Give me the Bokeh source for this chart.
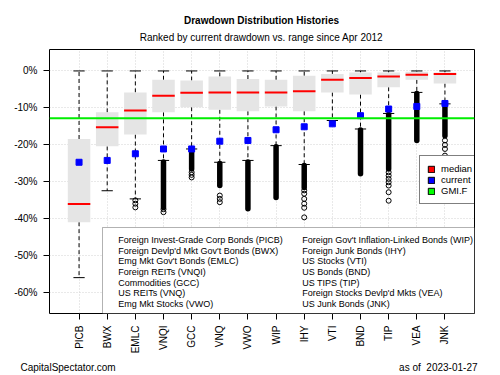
import math
from bokeh.plotting import figure
from bokeh.layouts import column
from bokeh.models import (Range1d, FixedTicker, PrintfTickFormatter, Span, Label,
                          BoxAnnotation, Legend, LegendItem)
from bokeh.embed import file_html
from bokeh.resources import INLINE

# ---------------- data (drawdown, %) ----------------
tickers = ["PICB", "BWX", "EMLC", "VNQI", "GCC", "VNQ", "VWO",
           "WIP", "IHY", "VTI", "BND", "TIP", "VEA", "JNK"]
whisker_hi = [0.0, 0.0, 0.0, 0.0, 0.0, 0.0, 0.0, 0.0, 0.0, 0.0, 0.0, 0.0, 0.0, 0.0]
box_hi = [-18.4, -11.2, -5.8, -2.4, -2.6, -1.5, -2.2, -2.4, -1.3, -0.8, -0.4, -0.4, -0.2, -0.4]
median = [-36.0, -15.2, -10.7, -6.7, -5.9, -5.8, -5.8, -5.8, -5.5, -2.4, -1.9, -1.5, -1.0, -0.8]
box_lo = [-40.9, -20.4, -17.2, -11.2, -9.8, -10.5, -10.9, -9.6, -10.9, -5.8, -6.4, -4.4, -2.4, -3.4]
whisker_lo = [-55.9, -32.4, -34.6, -24.2, -21.1, -24.7, -24.2, -20.2, -25.3, -13.4, -15.7, -11.5, -5.8, -8.9]
current = [-24.7, -24.2, -22.4, -21.1, -21.1, -19.0, -18.8, -15.9, -15.1, -14.3, -12.1, -10.3, -9.6, -8.8]
gmi_f = -12.8

# dense runs of outliers (drawn as solid columns of circles)
band_ticker = ["VNQI", "GCC", "VNQ", "VWO", "WIP", "IHY", "BND", "TIP", "VEA", "JNK"]
band_top = [-24.6, -21.5, -25.0, -24.6, -20.5, -25.6, -16.0, -11.8, -6.1, -9.2]
band_bottom = [-36.9, -26.5, -31.0, -37.3, -34.2, -31.5, -27.8, -26.5, -18.8, -17.5]

# isolated outliers
out_ticker = ["EMLC", "EMLC", "EMLC", "VNQI", "VNQI", "GCC", "GCC", "GCC",
              "VNQ", "VNQ", "VNQ", "IHY", "IHY", "IHY", "IHY", "IHY", "IHY",
              "TIP", "TIP", "TIP", "TIP", "TIP", "TIP", "TIP",
              "JNK", "JNK", "JNK", "JNK"]
out_value = [-35.0, -35.9, -36.9, -37.4, -38.2, -27.4, -28.1, -28.8,
             -33.7, -34.6, -35.5, -32.3, -33.2, -34.6, -35.9, -37.0, -39.6,
             -27.4, -28.3, -29.2, -30.1, -31.0, -32.8, -35.1,
             -18.8, -20.0, -21.1, -22.9]

y_ticks = [0, -10, -20, -30, -40, -50, -60]

left_names = ["Foreign Invest-Grade Corp Bonds (PICB)",
              "Foreign Devlp'd Mkt Gov't Bonds (BWX)",
              "Emg Mkt Gov't Bonds (EMLC)",
              "Foreign REITs (VNQI)",
              "Commodities (GCC)",
              "US REITs (VNQ)",
              "Emg Mkt Stocks (VWO)"]
right_names = ["Foreign Gov't Inflation-Linked Bonds (WIP)",
               "Foreign Junk Bonds (IHY)",
               "US Stocks (VTI)",
               "US Bonds (BND)",
               "US TIPS (TIP)",
               "Foreign Stocks Devlp'd Mkts (VEA)",
               "US Junk Bonds (JNK)"]
legend_labels = ["median", "current", "GMI.F"]

title_text = "Drawdown Distribution Histories"
subtitle_text = "Ranked by current drawdown vs. range since Apr 2012"
source_text = "CapitalSpectator.com"
date_text = "as of\u00a0 2023-01-27"

FONT = "Liberation Sans"
W = 500
HEAD_H = 45
FOOT_H = 14
MAIN_H = 375 - HEAD_H - FOOT_H


def no_frame_align(fig):
    try:
        fig.frame_align = False
    except AttributeError:
        pass


def text_strip(height):
    f = figure(width=W, height=height, output_backend="svg", toolbar_location=None,
               x_range=Range1d(0, W), y_range=Range1d(0, height),
               x_axis_type=None, y_axis_type=None, title=None,
               min_border_left=0, min_border_right=0, min_border_top=0,
               min_border_bottom=0)
    f.outline_line_color = None
    f.xgrid.visible = False
    f.ygrid.visible = False
    f.background_fill_color = "white"
    f.border_fill_color = "white"
    no_frame_align(f)
    return f


# ---------------- header ----------------
head = text_strip(HEAD_H)
head.add_layout(Label(x=261, y=HEAD_H - 20, text=title_text, text_font=FONT,
                      text_font_size="10px", text_font_style="bold", text_color="black",
                      text_align="center", text_baseline="middle"))
head.add_layout(Label(x=261, y=HEAD_H - 37.3, text=subtitle_text, text_font=FONT,
                      text_font_size="10px", text_color="black",
                      text_align="center", text_baseline="middle"))

# ---------------- main plot ----------------
pos = list(range(1, len(tickers) + 1))
xmap = {t: i for t, i in zip(tickers, pos)}

p = figure(width=W, height=MAIN_H, output_backend="svg", toolbar_location=None,
           x_range=Range1d(-0.05, 15.05), y_range=Range1d(-65.6, 5.8), title=None,
           min_border_left=49, min_border_right=26, min_border_top=49 - HEAD_H,
           min_border_bottom=(375 - FOOT_H) - 313)
no_frame_align(p)
p.outline_line_color = "black"
p.outline_line_width = 1
p.background_fill_color = "white"
p.border_fill_color = "white"

p.xaxis.ticker = FixedTicker(ticks=pos)
p.xaxis.major_label_overrides = {i: t for i, t in zip(pos, tickers)}
p.xaxis.major_label_orientation = math.pi / 2
p.yaxis.ticker = FixedTicker(ticks=y_ticks)
p.yaxis.formatter = PrintfTickFormatter(format="%d%%")
for ax in (p.xaxis, p.yaxis):
    ax.axis_line_color = None
    ax.major_tick_line_color = "black"
    ax.major_tick_out = 6
    ax.major_tick_in = 0
    ax.minor_tick_line_color = None
    ax.major_label_text_font = FONT
    ax.major_label_text_font_size = "10px"
    ax.major_label_text_color = "black"
    ax.major_label_standoff = 6

for g in (p.xgrid, p.ygrid):
    g.grid_line_color = "#D3D3D3"
    g.grid_line_dash = "1 2"
    g.grid_line_width = 1

# whiskers
p.segment(x0=pos, y0=box_hi, x1=pos, y1=whisker_hi, line_color="black",
          line_width=1, line_dash="4 3")
p.segment(x0=pos, y0=box_lo, x1=pos, y1=whisker_lo, line_color="black",
          line_width=1, line_dash="4 3")
# boxes
p.vbar(x=pos, top=box_hi, bottom=box_lo, width=0.8, fill_color="#E5E5E5",
       line_color=None)
# caps
cap_l = [x - 0.2 for x in pos]
cap_r = [x + 0.2 for x in pos]
p.segment(x0=cap_l, y0=whisker_hi, x1=cap_r, y1=whisker_hi, line_color="black", line_width=1)
p.segment(x0=cap_l, y0=whisker_lo, x1=cap_r, y1=whisker_lo, line_color="black", line_width=1)
# medians
p.segment(x0=[x - 0.4 for x in pos], y0=median, x1=[x + 0.4 for x in pos], y1=median,
          line_color="#FF0000", line_width=2)
# outliers
bx = [xmap[t] for t in band_ticker]
p.segment(x0=bx, y0=band_top, x1=bx, y1=band_bottom, line_color="black",
          line_width=5.5, line_cap="round")
p.scatter(x=[xmap[t] for t in out_ticker], y=out_value, marker="circle", size=5,
          fill_color=None, line_color="black", line_width=1)
# current
p.scatter(x=pos, y=current, marker="square", size=6, fill_color="#0000FF",
          line_color="#0000FF")
# GMI.F
p.add_layout(Span(location=gmi_f, dimension="width", line_color="#00EE00", line_width=2))

# legend (top-right); swatch renderers carry a single NaN row so nothing shows in the plot
leg_colors = ["#FF0000", "#0000FF", "#00FF00"]
nan = float("nan")
items = []
for lab, col in zip(legend_labels, leg_colors):
    r = p.quad(left=[nan], right=[nan], top=[nan], bottom=[nan], fill_color=col,
               line_color="black", line_width=1)
    items.append(LegendItem(label=lab, renderers=[r]))
legend = Legend(items=items, location=(370, 109), label_text_font=FONT,
                label_text_font_size="9.5px", label_text_color="black",
                glyph_width=8, glyph_height=8, label_height=8, label_standoff=6,
                spacing=0, padding=7, margin=0, border_line_color="black",
                border_line_width=1, background_fill_color="white",
                background_fill_alpha=1)
p.add_layout(legend)

# names box (bottom)
p.add_layout(BoxAnnotation(left=53, right=425, bottom=0, top=86,
                           left_units="screen", right_units="screen",
                           bottom_units="screen", top_units="screen",
                           fill_color="white", fill_alpha=1,
                           line_color="black", line_width=1))
row_y = [73.7, 63.0, 52.3, 41.7, 31.0, 20.3, 9.6]
for txt, yy in zip(left_names, row_y):
    p.add_layout(Label(x=68.7, y=yy, x_units="screen", y_units="screen", text=txt,
                       text_font=FONT, text_font_size="9px", text_color="black",
                       text_baseline="middle", text_align="left"))
for txt, yy in zip(right_names, row_y):
    p.add_layout(Label(x=252.7, y=yy, x_units="screen", y_units="screen", text=txt,
                       text_font=FONT, text_font_size="9px", text_color="black",
                       text_baseline="middle", text_align="left"))

# ---------------- footer ----------------
foot = text_strip(FOOT_H)
foot.add_layout(Label(x=20, y=375 - 367, text=source_text, text_font=FONT,
                      text_font_size="10px", text_color="black",
                      text_align="left", text_baseline="middle"))
foot.add_layout(Label(x=477, y=375 - 367, text=date_text, text_font=FONT,
                      text_font_size="10px", text_color="black",
                      text_align="right", text_baseline="middle"))

page = column(head, p, foot, spacing=0)
open("out.html", "w").write(file_html(page, INLINE))
